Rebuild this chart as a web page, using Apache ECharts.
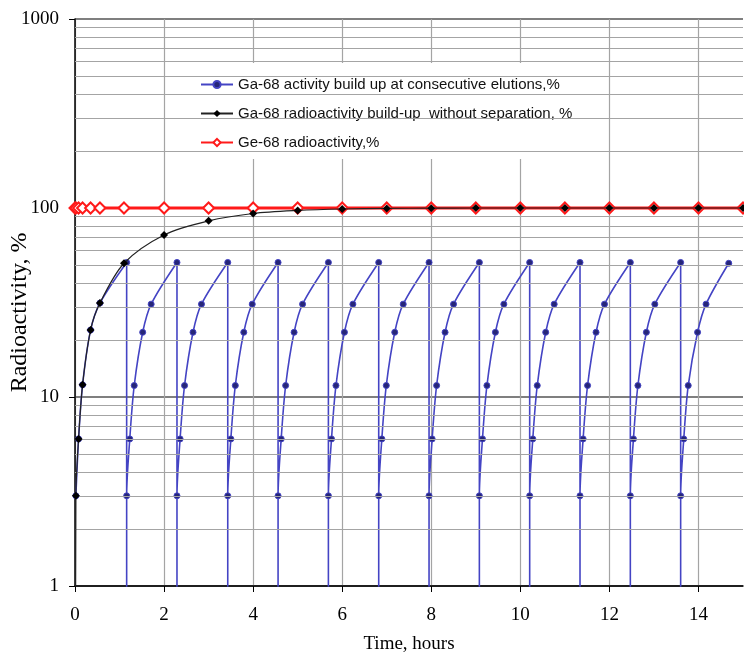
<!DOCTYPE html>
<html><head><meta charset="utf-8">
<script src="https://cdn.jsdelivr.net/npm/echarts@6/dist/echarts.min.js"></script>
<style>html,body{margin:0;padding:0;background:#fff}#c{width:744px;height:656px}</style>
</head><body><div id="c"></div>
<script>
const seriesNames = [
  'Ga-68 activity build up at consecutive elutions,%',
  'Ga-68 radioactivity build-up  without separation, %',
  'Ge-68 radioactivity,%'
];
const xTickLabels = [0, 2, 4, 6, 8, 10, 12, 14];
const yTickLabels = [1, 10, 100, 1000];
const minorGridValues = [2,3,4,5,6,7,8,9,20,30,40,50,60,70,80,90,200,300,400,500,600,700,800,900];

// Ga-68 at consecutive elutions (sawtooth)
const blueTimes = [
  0.02,0.08,0.17,0.35,0.56,1.16,1.16,
  1.16,1.23,1.33,1.52,1.71,2.29,2.29,
  2.29,2.36,2.46,2.65,2.84,3.43,3.43,
  3.43,3.50,3.60,3.79,3.98,4.56,4.56,
  4.56,4.63,4.73,4.92,5.11,5.69,5.69,
  5.69,5.76,5.86,6.05,6.24,6.82,6.82,
  6.82,6.89,6.99,7.18,7.37,7.95,7.95,
  7.95,8.02,8.12,8.31,8.50,9.08,9.08,
  9.08,9.15,9.25,9.44,9.63,10.21,10.21,
  10.21,10.28,10.38,10.57,10.76,11.34,11.34,
  11.34,11.41,11.51,11.70,11.89,12.47,12.47,
  12.47,12.54,12.64,12.83,13.02,13.60,13.60,
  13.60,13.67,13.77,13.98,14.17,14.68
];
const blueValues = [
  3,6,11.6,22.6,31.4,51.5,0.1,
  3,6,11.5,22,31,51.5,0.1,
  3,6,11.5,22,31,51.5,0.1,
  3,6,11.5,22,31,51.5,0.1,
  3,6,11.5,22,31,51.5,0.1,
  3,6,11.5,22,31,51.5,0.1,
  3,6,11.5,22,31,51.5,0.1,
  3,6,11.5,22,31,51.5,0.1,
  3,6,11.5,22,31,51.5,0.1,
  3,6,11.5,22,31,51.5,0.1,
  3,6,11.5,22,31,51.5,0.1,
  3,6,11.5,22,31,51.5,0.1,
  3,6,11.5,22,31,51
];
// Ga-68 build-up without separation
const blackTimes = [0,0.02,0.08,0.17,0.35,0.56,1.1,2,3,4,5,6,7,8,9,10,11,12,13,14,15];
const blackValues = [0.01,3,6,11.6,22.6,31.4,51,72,85.5,93.5,97,98.8,99.5,99.8,100,100,100,100,100,100,100];
// Ge-68
const redTimes = [0,0.02,0.08,0.17,0.35,0.56,1.1,2,3,4,5,6,7,8,9,10,11,12,13,14,15];
const redValues = [100,100,100,100,100,100,100,100,100,100,100,100,100,100,100,100,100,100,100,100,100];

const zip = (a, b) => a.map((v, i) => [v, b[i]]);
const serif = "'Liberation Serif','Times New Roman',serif";
const legendFont = "'Liberation Sans Narrow','Arial Narrow','Liberation Sans',sans-serif";

const chart = echarts.init(document.getElementById('c'), null, {renderer: 'canvas'});
chart.setOption({
  animation: false,
  backgroundColor: '#fff',
  grid: {left: 75, right: 1, top: 19, bottom: 70, containLabel: false, outerBoundsMode: 'none'},
  legend: {
    data: seriesNames,
    orient: 'vertical',
    left: 185, top: 63,
    backgroundColor: '#fff',
    padding: [14, 12, 9, 15],
    itemGap: 14,
    itemWidth: 32, itemHeight: 9,
    textStyle: {fontFamily: legendFont, fontSize: 15, color: '#111'}
  },
  xAxis: {
    type: 'value', min: 0, max: 15, interval: 1,
    name: 'Time, hours', nameLocation: 'middle', nameGap: 49, nameMoveOverlap: false,
    nameTextStyle: {fontFamily: serif, fontSize: 19, color: '#000'},
    axisLine: {lineStyle: {color: '#000', width: 1.5}},
    axisTick: {show: true, customValues: xTickLabels, length: 6, lineStyle: {color: '#000'}},
    axisLabel: {customValues: xTickLabels, margin: 20, fontFamily: serif, fontSize: 19, color: '#000'},
    splitLine: {show: true, lineStyle: {color: '#a4a4a4', width: 1.2}}
  },
  yAxis: {
    type: 'log', logBase: 10, min: 1, max: 1000,
    name: 'Radioactivity, %', nameLocation: 'middle', nameGap: 43, nameMoveOverlap: false,
    nameTextStyle: {fontFamily: serif, fontSize: 24, color: '#000', padding: [0, 20, 0, 0]},
    axisLine: {show: true, lineStyle: {color: '#000', width: 1.5}},
    axisTick: {show: true, length: 6, lineStyle: {color: '#000'}},
    axisLabel: {margin: 16, fontFamily: serif, fontSize: 19, color: '#000',
      formatter: v => String(yTickLabels.find(t => Math.abs(t - v) < 1e-6) ?? v)},
    splitLine: {show: true, lineStyle: {color: '#555', width: 1.5}}
  },
  series: [
    {
      type: 'line', name: 'minor-grid', data: [], z: 1, silent: true,
      markLine: {
        silent: true, symbol: ['none', 'none'], animation: false,
        label: {show: false},
        lineStyle: {color: '#a4a4a4', type: 'solid', width: 1.2},
        emphasis: {disabled: true},
        data: minorGridValues.map(v => ({yAxis: v}))
      }
    },
    {
      type: 'line', name: seriesNames[2], data: zip(redTimes, redValues), z: 3,
      symbol: 'emptyDiamond', symbolSize: 11,
      color: '#ff1a1a',
      lineStyle: {color: '#ff1a1a', width: 3},
      itemStyle: {color: '#ff1a1a', borderColor: '#ff1a1a', borderWidth: 1.5}
    },
    {
      type: 'line', name: seriesNames[0], data: zip(blueTimes, blueValues), z: 4,
      symbol: 'circle', symbolSize: 6,
      smooth: 0.3,
      color: '#4444c4',
      lineStyle: {color: '#4444c4', width: 1.6},
      itemStyle: {color: '#262678', borderColor: '#4444c4', borderWidth: 1}
    },
    {
      type: 'line', name: seriesNames[1], data: zip(blackTimes, blackValues), z: 5,
      symbol: 'diamond', symbolSize: 8,
      smooth: 0.3,
      color: '#000',
      lineStyle: {color: '#222', width: 1.2},
      itemStyle: {color: '#000'}
    }
  ]
});
</script></body></html>
